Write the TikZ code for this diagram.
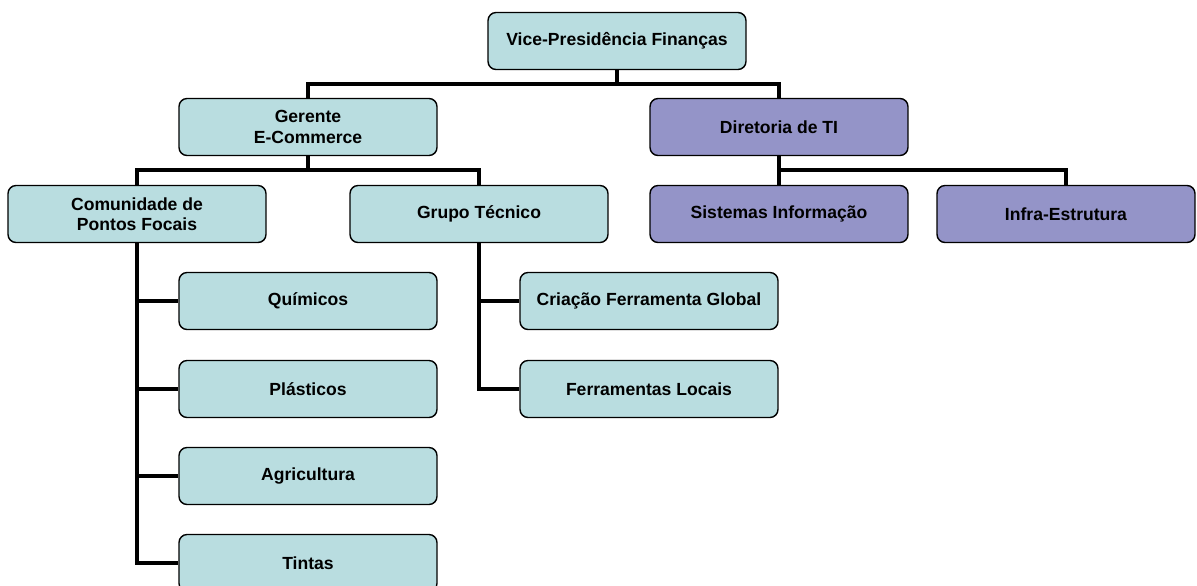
\documentclass[tikz,border=0pt]{standalone}
\usepackage{fontspec}
\setmainfont{Liberation Sans}
\usetikzlibrary{positioning}

\definecolor{caixa}{RGB}{185,221,224}
\definecolor{roxo}{RGB}{148,148,200}

\begin{document}
\begin{tikzpicture}
	[
	x=0.02cm, y=-0.02cm,
	box/.style = {draw, fill=caixa, rounded corners=0.16cm, line width=0.8pt, minimum width=5.16cm, minimum height=1.14cm, align=center, font=\bfseries\fontsize{10}{11.5}\selectfont},
	ti/.style = {box, fill=roxo},
	conn/.style = {line width=2pt}
	]
	\useasboundingbox (0,0) rectangle (1197,585);

	% topo
	\node[box] (vp) at (617,41) {Vice-Presidência Finanças};
	\node[box] (ger) at (308,127) {Gerente\\E-Commerce};
	\node[ti] (dir) at (779,127) {Diretoria de TI};

	% e-commerce
	\node[box] (com) at (137,214) {Comunidade de\\Pontos Focais};
	\node[box] (grp) at (479,214) {Grupo Técnico};
	\node[box] (qui) at (308,301) {Químicos};
	\node[box] (pla) at (308,389) {Plásticos};
	\node[box] (agr) at (308,476) {Agricultura};
	\node[box] (tin) at (308,563) {Tintas};
	\node[box] (cri) at (649,301) {Criação Ferramenta Global};
	\node[box] (fer) at (649,389) {Ferramentas Locais};

	% TI
	\node[ti] (sis) at (779,214) {Sistemas Informação};
	\node[ti] (inf) at (1066,214) {Infra-Estrutura};

	\coordinate (j1) at (617,84);
	\coordinate (j2) at (308,170);
	\coordinate (j3) at (779,170);

	\draw[conn] (vp.south) -- (j1) -| (ger.north);
	\draw[conn] (j1) -| (dir.north);
	\draw[conn] (ger.south) -- (j2) -| (com.north);
	\draw[conn] (j2) -| (grp.north);
	\draw[conn] (dir.south) -- (j3) -| (sis.north);
	\draw[conn] (j3) -| (inf.north);

	\draw[conn] (com.south) |- (qui.west);
	\draw[conn] (com.south) |- (pla.west);
	\draw[conn] (com.south) |- (agr.west);
	\draw[conn] (com.south) |- (tin.west);
	\draw[conn] (grp.south) |- (cri.west);
	\draw[conn] (grp.south) |- (fer.west);
\end{tikzpicture}
\end{document}
